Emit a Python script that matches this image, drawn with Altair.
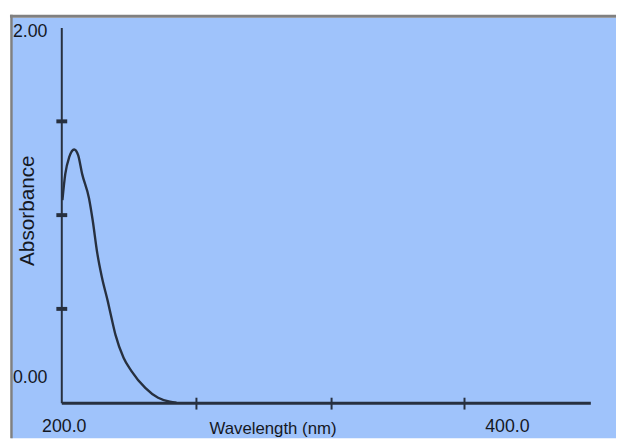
import altair as alt
import pandas as pd

# Spectrum
wavelength = [200.5, 201.8, 203.6, 205.8, 207.6, 209.4, 212.5, 214.2, 216.2, 218.3,
              221.0, 222.7, 224.5, 228.1, 231.6, 237.9, 243.7, 249.0, 252.0]
absorbance = [1.08, 1.22, 1.31, 1.35, 1.32, 1.22, 1.09, 0.97, 0.80, 0.67,
              0.54, 0.45, 0.36, 0.24, 0.17, 0.079, 0.026, 0.005, 0.0]

y_ticks = [0.5, 1.0, 1.5]
x_ticks = [261, 322, 382]
y_top_label = [2.0]
y_top_text = ["2.00"]
y_bottom_label = [0.0]
y_bottom_text = ["0.00"]
x_label_vals = [200, 400]
x_label_text = ["200.0", "400.0"]

BLUE = "#9fc3fb"
INK = "#27303f"
TXT = "#15181f"
FONT = "Liberation Sans"

curve = pd.DataFrame({"wl": wavelength, "a": absorbance})
one = pd.DataFrame({"k": [0]})

xs = alt.Scale(domain=[200, 438.8], nice=False, zero=False)
ys = alt.Scale(domain=[0, 2], nice=False)

panel = alt.Chart(one).mark_rect(fill=BLUE).encode(
    x=alt.value(-51), x2=alt.value(562), y=alt.value(-10), y2=alt.value(416))
top_border = alt.Chart(one).mark_rule(color="#808080", strokeWidth=3).encode(
    x=alt.value(-52), x2=alt.value(562), y=alt.value(-11.5))
left_border = alt.Chart(one).mark_rule(color="#808080", strokeWidth=2.5).encode(
    x=alt.value(-50.5), y=alt.value(-13), y2=alt.value(416))

line = alt.Chart(curve).mark_line(color=INK, strokeWidth=2.4, interpolate="monotone").encode(
    x=alt.X("wl:Q", scale=xs,
            axis=alt.Axis(labels=False, ticks=False, grid=False, domainColor=INK,
                          domainWidth=3, title="Wavelength (nm)", titleX=214, titleY=26,
                          titleBaseline="middle", titleAlign="center", titleFont=FONT,
                          titleFontSize=17, titleFontWeight="normal", titleColor=TXT,
                          zindex=1)),
    y=alt.Y("a:Q", scale=ys,
            axis=alt.Axis(labels=False, ticks=False, grid=False, domainColor=INK,
                          domainWidth=2, title="Absorbance", titleX=-34, titleY=185,
                          titleAngle=270, titleBaseline="middle", titleAlign="center",
                          titleFont=FONT, titleFontSize=21, titleFontWeight="normal",
                          titleColor=TXT, zindex=1)),
)

yt = alt.Chart(pd.DataFrame({"v": y_ticks})).mark_rule(color=INK, strokeWidth=4).encode(
    y=alt.Y("v:Q", scale=ys), x=alt.value(-5), x2=alt.value(6))
xt = alt.Chart(pd.DataFrame({"v": x_ticks})).mark_rule(color=INK, strokeWidth=2).encode(
    x=alt.X("v:Q", scale=xs), y=alt.value(375), y2=alt.value(387))

ylab_top = alt.Chart(pd.DataFrame({"v": y_top_label, "t": y_top_text})).mark_text(
    align="left", baseline="middle", dy=5, font=FONT, fontSize=18, color=TXT).encode(
    y=alt.Y("v:Q", scale=ys), x=alt.value(-49), text="t:N")
ylab_bot = alt.Chart(pd.DataFrame({"v": y_bottom_label, "t": y_bottom_text})).mark_text(
    align="left", baseline="middle", dy=-25, font=FONT, fontSize=18, color=TXT).encode(
    y=alt.Y("v:Q", scale=ys), x=alt.value(-49), text="t:N")
xlab = alt.Chart(pd.DataFrame({"v": x_label_vals, "t": x_label_text})).mark_text(
    align="center", baseline="middle", dx=3, dy=1, font=FONT, fontSize=18, color=TXT).encode(
    x=alt.X("v:Q", scale=xs), y=alt.value(404), text="t:N")

chart = alt.layer(panel, top_border, left_border, line, yt, xt, ylab_top, ylab_bot, xlab).properties(
    width=536, height=380,
    padding={"left": 54, "top": 17, "right": 26, "bottom": 36},
    autosize=alt.AutoSizeParams(type="none"),
    background="white",
).configure_view(stroke=None)

chart.save("out.html", embed_options={"renderer": "svg", "actions": False})
